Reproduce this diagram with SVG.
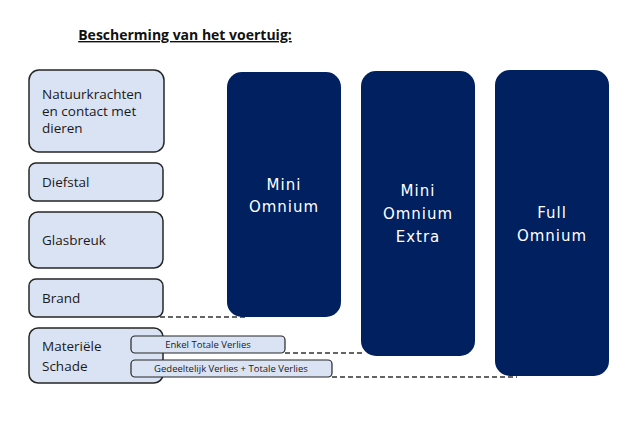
<svg xmlns="http://www.w3.org/2000/svg" width="641" height="422" viewBox="0 0 641 422">
<style>
.cat{fill:#dae3f3;stroke:#262626;stroke-width:1.5}
.lbl{font-family:"Open Sans","Liberation Sans",sans-serif;font-size:13.5px;fill:#1a1a1a}
.sub{fill:#dae3f3;stroke:#262626;stroke-width:1.2}
.sl{font-family:"Open Sans","Liberation Sans",sans-serif;font-size:9.5px;fill:#1a1a1a;text-anchor:middle}
.pk{fill:#002060}
.pt{font-family:"DejaVu Sans","Liberation Sans",sans-serif;font-size:15px;fill:#ffffff;text-anchor:middle;letter-spacing:1px}
.dash{stroke:#333;stroke-width:1.5;stroke-dasharray:5,3;fill:none}
</style>
<rect width="641" height="422" fill="#ffffff"/>
<text x="185" y="40" text-anchor="middle" font-family="Open Sans, Liberation Sans, sans-serif" font-size="14" font-weight="bold" fill="#111" text-decoration="underline">Bescherming van het voertuig:</text>
<g id="connectors">
<line class="dash" x1="160" y1="317" x2="245" y2="317"/>
<line class="dash" x1="285" y1="353" x2="365" y2="353"/>
<line class="dash" x1="332" y1="377" x2="517" y2="377"/>
</g>
<g id="natuur"><rect class="cat" x="29" y="70" width="135" height="82" rx="10"/>
<text class="lbl" x="42" y="99">Natuurkrachten</text><text class="lbl" x="42" y="116">en contact met</text><text class="lbl" x="42" y="133">dieren</text></g>
<g id="diefstal"><rect class="cat" x="29" y="163" width="134" height="38" rx="7"/><text class="lbl" x="42" y="187">Diefstal</text></g>
<g id="glasbreuk"><rect class="cat" x="29" y="212" width="134" height="56" rx="9"/><text class="lbl" x="42" y="245">Glasbreuk</text></g>
<g id="brand"><rect class="cat" x="29" y="279" width="134" height="38" rx="7"/><text class="lbl" x="42" y="303">Brand</text></g>
<g id="materiele"><rect class="cat" x="29" y="328" width="134" height="55" rx="9"/><text class="lbl" x="42" y="351">Materiële</text><text class="lbl" x="42" y="371">Schade</text></g>
<g id="enkel"><rect class="sub" x="131" y="336" width="154" height="17" rx="4"/><text class="sl" x="208" y="348">Enkel Totale Verlies</text></g>
<g id="gedeeltelijk"><rect class="sub" x="131" y="360" width="201" height="17" rx="4"/><text class="sl" x="231" y="372">Gedeeltelijk  Verlies + Totale Verlies</text></g>
<g id="mini"><rect class="pk" x="227" y="72" width="114" height="245" rx="15"/><text class="pt" x="284" y="190">Mini</text><text class="pt" x="284" y="212">Omnium</text></g>
<g id="miniextra"><rect class="pk" x="361" y="71" width="114" height="285" rx="15"/><text class="pt" x="418" y="196">Mini</text><text class="pt" x="418" y="219">Omnium</text><text class="pt" x="418" y="242">Extra</text></g>
<g id="full"><rect class="pk" x="495" y="70" width="114" height="306" rx="15"/><text class="pt" x="552" y="218">Full</text><text class="pt" x="552" y="241">Omnium</text></g>
</svg>
